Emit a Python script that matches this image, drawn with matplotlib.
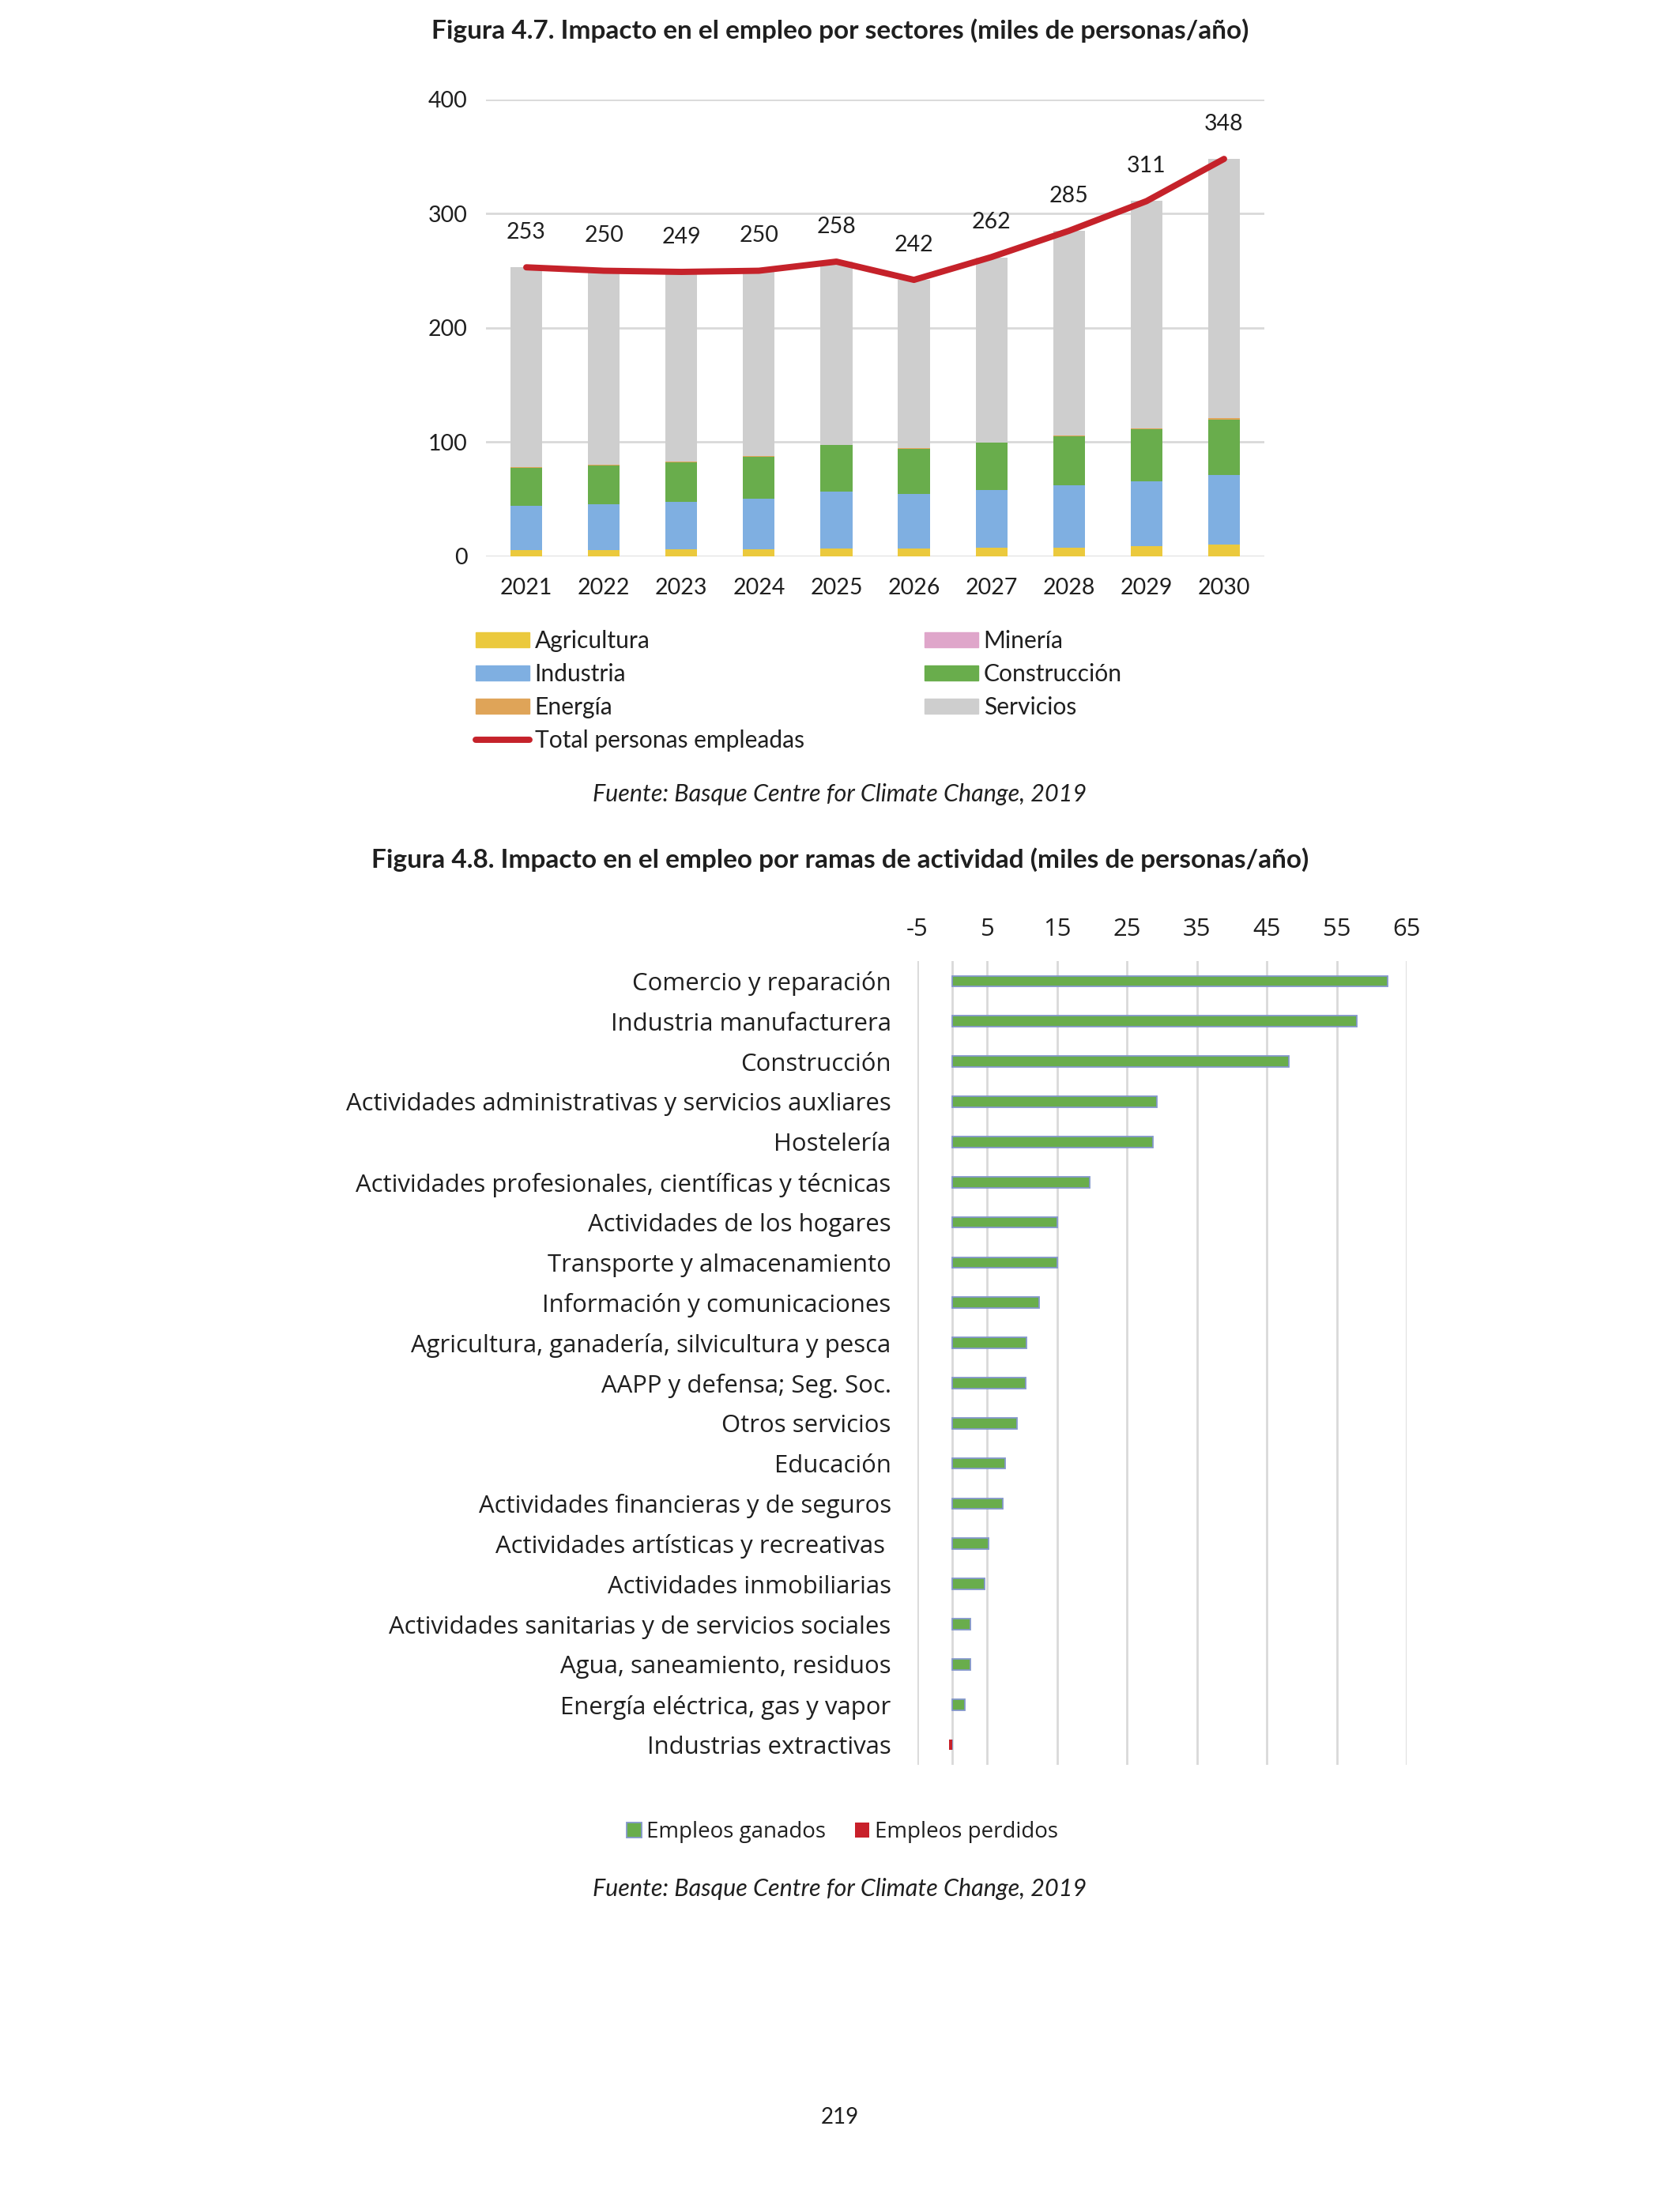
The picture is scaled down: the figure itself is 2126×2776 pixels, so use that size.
import matplotlib
matplotlib.use('Agg')
import matplotlib.pyplot as plt
from matplotlib.patches import Patch
from matplotlib.lines import Line2D
import numpy as np

plt.rcParams['axes.unicode_minus'] = False

# ---------------- Data: Figura 4.7 ----------------
years = ['2021', '2022', '2023', '2024', '2025', '2026', '2027', '2028', '2029', '2030']
agricultura = [5.3, 5.3, 5.8, 6.0, 6.3, 6.3, 7.2, 7.4, 8.8, 9.8]
mineria = [0.1, 0.1, 0.1, 0.1, 0.1, 0.1, 0.1, 0.1, 0.1, 0.1]
industria = [38.4, 39.8, 41.4, 44.2, 50.0, 47.9, 50.5, 54.5, 56.5, 61.1]
construccion = [33.5, 34.0, 35.1, 36.8, 40.7, 39.8, 41.4, 42.8, 45.6, 48.2]
energia = [0.5, 0.5, 0.5, 0.4, 0.4, 0.3, 0.4, 0.6, 1.2, 1.4]
servicios = [175.2, 170.3, 166.1, 162.5, 160.5, 147.6, 162.0, 179.6, 198.8, 227.4]
total = [253, 250, 249, 250, 258, 242, 262, 285, 311, 348]

# ---------------- Data: Figura 4.8 ----------------
ramas = [
    'Comercio y reparación',
    'Industria manufacturera',
    'Construcción',
    'Actividades administrativas y servicios auxliares',
    'Hostelería',
    'Actividades profesionales, científicas y técnicas',
    'Actividades de los hogares',
    'Transporte y almacenamiento',
    'Información y comunicaciones',
    'Agricultura, ganadería, silvicultura y pesca',
    'AAPP y defensa; Seg. Soc.',
    'Otros servicios',
    'Educación',
    'Actividades financieras y de seguros',
    'Actividades artísticas y recreativas ',
    'Actividades inmobiliarias',
    'Actividades sanitarias y de servicios sociales',
    'Agua, saneamiento, residuos',
    'Energía eléctrica, gas y vapor',
    'Industrias extractivas',
]
ganados = [62.3, 57.9, 48.1, 29.3, 28.7, 19.7, 15.0, 15.0, 12.4, 10.6,
           10.5, 9.2, 7.5, 7.2, 5.2, 4.6, 2.6, 2.6, 1.8, 0.0]
perdidos = [0, 0, 0, 0, 0, 0, 0, 0, 0, 0, 0, 0, 0, 0, 0, 0, 0, 0, 0, -0.5]
xticks_48 = [-5, 5, 15, 25, 35, 45, 55, 65]

# ---------------- Style ----------------
C_AGR = '#EBC93D'
C_MIN = '#DFA6CA'
C_IND = '#7FAFE1'
C_CON = '#69AD4C'
C_ENE = '#DFA458'
C_SER = '#CECECE'
C_TOT = '#C5222A'
C_GRID = '#D9D9D9'
TXT = '#1F1F1F'
F1 = 'Lato'
F2 = 'Open Sans'

W, H = 2126, 2776
fig = plt.figure(figsize=(W / 100, H / 100), dpi=100)


def fx(px):
    return px / W


def fy(py):
    return 1 - py / H


# Titles and sources
fig.text(0.5, fy(39), 'Figura 4.7. Impacto en el empleo por sectores (miles de personas/año)',
         ha='center', va='center', fontsize=24, fontweight='bold', family=F1, color=TXT)
fig.text(0.5, fy(1005), 'Fuente: Basque Centre for Climate Change, 2019',
         ha='center', va='center', fontsize=22, style='italic', family=F1, color=TXT)
fig.text(0.5, fy(1088), 'Figura 4.8. Impacto en el empleo por ramas de actividad (miles de personas/año)',
         ha='center', va='center', fontsize=24, fontweight='bold', family=F1, color=TXT)
fig.text(0.5, fy(2390), 'Fuente: Basque Centre for Climate Change, 2019',
         ha='center', va='center', fontsize=22, style='italic', family=F1, color=TXT)
fig.text(0.5, fy(2679), '219', ha='center', va='center', fontsize=20, family=F1, color=TXT)

# ---------------- Top chart ----------------
ax1 = fig.add_axes([fx(615), fy(703.5), fx(1600) - fx(615), fy(126) - fy(703.5)])
x = np.arange(len(years))
bw = 0.41
series = [
    ('Agricultura', agricultura, C_AGR),
    ('Minería', mineria, C_MIN),
    ('Industria', industria, C_IND),
    ('Construcción', construccion, C_CON),
    ('Energía', energia, C_ENE),
    ('Servicios', servicios, C_SER),
]
bottom = np.zeros(len(years))
for name, vals, col in series:
    v = np.array(vals, dtype=float)
    ax1.bar(x, v, bw, bottom=bottom, color=col, edgecolor='none', zorder=2)
    bottom += v

ax1.plot(x, total, color=C_TOT, lw=5.7, solid_capstyle='round', solid_joinstyle='round', zorder=3)
for xi, t in zip(x, total):
    ax1.annotate(str(t), (xi, t), xytext=(0, 32), textcoords='offset points',
                 ha='center', va='center', fontsize=20.5, family=F1, color=TXT)

ax1.set_xlim(-0.52, 9.52)
ax1.set_ylim(0, 400)
ax1.set_yticks([0, 100, 200, 300, 400])
ax1.set_xticks(x)
ax1.set_xticklabels(years)
ax1.yaxis.grid(True, color=C_GRID, lw=2)
ax1.set_axisbelow(True)
for s in ax1.spines.values():
    s.set_visible(False)
ax1.tick_params(axis='both', length=0, labelsize=20.5, colors=TXT)
ax1.tick_params(axis='y', pad=17)
ax1.tick_params(axis='x', pad=20)
for lab in ax1.get_xticklabels() + ax1.get_yticklabels():
    lab.set_family(F1)

# Legend (two columns, drawn as two legends)
fs_leg = 21.6
leg_kw = dict(frameon=False, handlelength=68 / 30, handleheight=0.6,
              handletextpad=0.22, labelspacing=0.47, borderpad=0, borderaxespad=0,
              prop={'family': F1, 'size': fs_leg})
h_col1 = [Patch(color=C_AGR), Patch(color=C_IND), Patch(color=C_ENE),
          Line2D([], [], color=C_TOT, lw=5.7, solid_capstyle='round')]
l_col1 = ['Agricultura', 'Industria', 'Energía', 'Total personas empleadas']
h_col2 = [Patch(color=C_MIN), Patch(color=C_CON), Patch(color=C_SER)]
l_col2 = ['Minería', 'Construcción', 'Servicios']
leg1 = fig.legend(h_col1, l_col1, loc='upper left', bbox_to_anchor=(fx(602), fy(797)), **leg_kw)
leg2 = fig.legend(h_col2, l_col2, loc='upper left', bbox_to_anchor=(fx(1170), fy(797)), **leg_kw)
for lg in (leg1, leg2):
    for t in lg.get_texts():
        t.set_color(TXT)

# ---------------- Bottom chart ----------------
ax2 = fig.add_axes([fx(1161), fy(2233), fx(1780) - fx(1161), fy(1216) - fy(2233)])
y = np.arange(len(ramas))
bh = 0.27
ax2.barh(y, ganados, bh, color=C_CON, edgecolor='#8497CB', linewidth=1.3, zorder=3,
         label='Empleos ganados')
ax2.barh(y, perdidos, bh, color='#C8202A', edgecolor='none', zorder=3, label='Empleos perdidos')
ax2.set_xlim(-5, 65)
ax2.set_ylim(len(ramas) - 0.5, -0.5)
ax2.set_xticks(xticks_48)
ax2.set_yticks(y)
ax2.set_yticklabels(ramas)
ax2.xaxis.grid(True, color=C_GRID, lw=2)
ax2.axvline(0, color=C_GRID, lw=2, zorder=1)
ax2.set_axisbelow(True)
for s in ax2.spines.values():
    s.set_visible(False)
ax2.xaxis.tick_top()
ax2.tick_params(axis='both', length=0, labelsize=22.4, colors=TXT)
ax2.tick_params(axis='x', pad=18)
ax2.tick_params(axis='y', pad=24)
for lab in ax2.get_xticklabels():
    lab.set_family(F2)
for lab in ax2.get_yticklabels():
    lab.set_family(F2)

leg3 = fig.legend(handles=[Patch(facecolor=C_CON, edgecolor='#8497CB', linewidth=1.3),
                           Patch(facecolor='#C8202A', edgecolor='none')],
                  labels=['Empleos ganados', 'Empleos perdidos'],
                  loc='center', bbox_to_anchor=(fx(1066), fy(2318)), ncol=2, frameon=False,
                  handlelength=0.65, handleheight=0.65, handletextpad=0.25, columnspacing=1.3,
                  borderpad=0, prop={'family': F2, 'size': 20})
for t in leg3.get_texts():
    t.set_color(TXT)

fig.savefig('out.png', dpi=100, facecolor='white')
